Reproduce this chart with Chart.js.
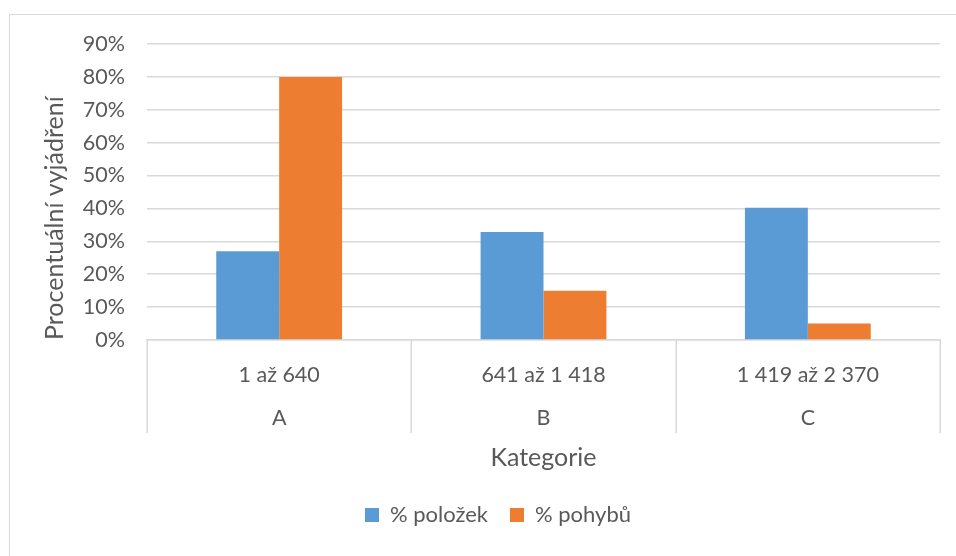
<!DOCTYPE html>
<html lang="cs">
<head>
<meta charset="utf-8">
<script src="https://cdn.jsdelivr.net/npm/chart.js@4/dist/chart.umd.min.js"></script>
<style>
  html, body { margin: 0; padding: 0; background: #fff; overflow: hidden; }
  #frame { position: absolute; left: 9px; top: 14px; width: 1000px; height: 600px;
           border: 1.5px solid #d9d9d9; box-sizing: border-box; }
  #wrap { position: absolute; left: 0; top: 0; width: 956px; height: 556px; }
</style>
</head>
<body>
<div id="frame"></div>
<div id="wrap"><canvas id="c" width="956" height="556"></canvas></div>
<script>
// ABC rozdělení položek skladu
const rangeLabels = ['1 až 640', '641 až 1 418', '1 419 až 2 370'];
const classLabels = ['A', 'B', 'C'];
const seriesNames = ['% položek', '% pohybů'];
const itemShare = [27.0, 32.8, 40.2];
const movementShare = [80, 15, 5];
const yTicks = [0, 10, 20, 30, 40, 50, 60, 70, 80, 90];

const FONT = 'Lato, "Open Sans", sans-serif';
const TEXT = '#595959';
const GRID = '#d9d9d9';

// svislé oddělovače pod osou X mezi kategoriemi
const categoryDividers = {
  id: 'categoryDividers',
  afterDraw(chart) {
    const x = chart.scales.x;
    const ctx = chart.ctx;
    ctx.save();
    ctx.strokeStyle = GRID;
    ctx.lineWidth = 1.5;
    for (let i = 0; i <= rangeLabels.length; i++) {
      const px = Math.round(x.getPixelForValue(i - 0.5)) + 0.25;
      ctx.beginPath();
      ctx.moveTo(px, x.top);
      ctx.lineTo(px, x.top + 93);
      ctx.stroke();
    }
    ctx.restore();
  }
};

// legenda posunutá doprava pod střed grafu
const legendShift = {
  id: 'legendShift',
  afterLayout(chart) {
    if (chart.legend) {
      chart.legend.left += 28;
      chart.legend.right += 28;
    }
  }
};

new Chart(document.getElementById('c'), {
  type: 'bar',
  data: {
    labels: rangeLabels.map((r, i) => [r, classLabels[i]]),
    datasets: [
      { label: seriesNames[0], data: itemShare, backgroundColor: '#5b9bd5' },
      { label: seriesNames[1], data: movementShare, backgroundColor: '#ed7d31' }
    ]
  },
  options: {
    responsive: false,
    animation: false,
    layout: { padding: { left: 0, right: 16, top: 44, bottom: 20 } },
    datasets: { bar: { categoryPercentage: 0.476, barPercentage: 1.0 } },
    plugins: {
      tooltip: { enabled: false },
      legend: {
        position: 'bottom',
        labels: {
          font: { family: FONT, size: 22 },
          color: TEXT,
          boxWidth: 14,
          boxHeight: 14,
          padding: 22
        }
      }
    },
    scales: {
      x: {
        afterFit(scale) { scale.height = 142; },
        grid: { display: false, drawTicks: false },
        border: { display: true, color: GRID, width: 1.5 },
        ticks: {
          font: { family: FONT, size: 21.5, lineHeight: '43px' },
          color: TEXT,
          padding: 13.5,
          maxRotation: 0
        },
        title: {
          display: true,
          text: 'Kategorie',
          font: { family: FONT, size: 25, lineHeight: 1.2 },
          color: TEXT,
          padding: { top: 0, bottom: 9 }
        }
      },
      y: {
        min: 0,
        max: 90,
        afterBuildTicks(scale) { scale.ticks = yTicks.map(v => ({ value: v })); },
        afterFit(scale) { scale.width = 147; },
        grid: { color: GRID, lineWidth: 1.5, drawTicks: false },
        border: { display: false },
        ticks: {
          font: { family: FONT, size: 21.5 },
          color: TEXT,
          padding: 22,
          callback: v => v + '%'
        },
        title: {
          display: true,
          text: 'Procentuální vyjádření',
          align: 'start',
          font: { family: FONT, size: 25, lineHeight: 1.2 },
          color: TEXT,
          padding: { top: 40, bottom: 0 }
        }
      }
    }
  },
  plugins: [categoryDividers, legendShift]
});
</script>
</body>
</html>
